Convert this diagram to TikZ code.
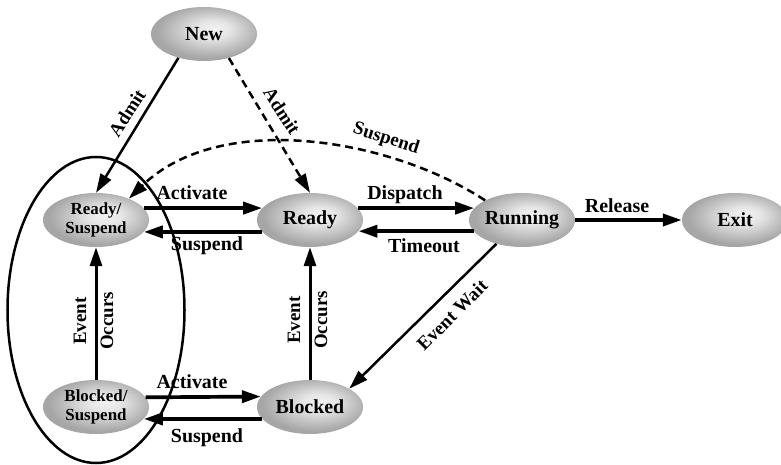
\documentclass[tikz,border=0pt]{standalone}
\usepackage{fontspec}
\setmainfont{Liberation Serif}
\usetikzlibrary{arrows.meta,shapes.geometric}

% soft grey fill for the state ellipses, lighter towards the upper right
\pgfdeclareradialshading{stateshade}{\pgfpoint{5bp}{5bp}}{%
  color(0bp)=(black!5); color(8bp)=(black!10); color(25bp)=(black!35); color(50bp)=(black!35)}

\begin{document}
\begin{tikzpicture}[x=1bp,y=-1bp,
  state/.style={ellipse, shading=stateshade, minimum width=106bp, minimum height=54bp,
    inner sep=0pt, font=\fontsize{20}{22}\selectfont\bfseries},
  state2/.style={state, align=center, font=\fontsize{17}{19}\selectfont\bfseries},
  lbl/.style={inner sep=0pt, font=\fontsize{20}{22}\selectfont\bfseries},
  slbl/.style={inner sep=0pt, font=\fontsize{19}{21}\selectfont\bfseries},
  tip/.style={-{Triangle[length=19bp,width=12bp]}},
  harr/.style={tip, line width=3.7bp},
  varr/.style={tip, line width=3bp},
  darr/.style={tip, line width=2.5bp},
  dasharr/.style={tip, line width=2.5bp, dash pattern=on 8bp off 5bp},
]
\useasboundingbox (0,0) rectangle (781,465);

% states
\node[state]  (new) at (204,34)  {New};
\node[state2] (rs)  at (96,220)  {Ready/\\Suspend};
\node[state]  (rd)  at (310,220) {Ready};
\node[state]  (run) at (522,220) {Running};
\node[state]  (ext) at (735,220) {Exit};
\node[state2] (bs)  at (96,407)  {Blocked/\\Suspend};
\node[state]  (bl)  at (310,407) {Blocked};

% outline grouping the two suspended states
\node[draw, ellipse, line width=2.5bp, minimum width=177bp, minimum height=306bp,
  inner sep=0pt] (grp) at (96,310) {};

% transitions
\draw[darr] (new.223) -- (rs.north);
\draw[dasharr] (new.316) -- (rd.north);
\draw[dasharr] (run.152) .. controls (390,138) and (220,110) .. (rs.33);
\draw[harr] (rs.14) -- (rd.166);
\draw[harr] (rd.194) -- (rs.346);
\draw[harr] (rd.14) -- (run.166);
\draw[harr] (run.193) -- (rd.347);
\draw[harr] (run) -- (ext);
\draw[varr] (bs) -- (rs);
\draw[varr] (bl) -- (rd);
\draw[darr] (run.223) -- (bl.25);
\draw[harr] (bs.11.5) -- (bl.168.5);
\draw[harr] (bl.194) -- (bs.346);

% transition labels
\node[lbl, anchor=base] (tActA) at (192,200) {Activate};
\node[lbl, anchor=base] (tSusA) at (207,251) {Suspend};
\node[lbl, anchor=base] (tDisp) at (405,200) {Dispatch};
\node[lbl, anchor=base] (tTime) at (424,253) {Timeout};
\node[lbl, anchor=base] (tRel)  at (617,213) {Release};
\node[lbl, anchor=base] (tActB) at (192,388) {Activate};
\node[lbl, anchor=base] (tSusB) at (207,442) {Suspend};
\node[slbl, rotate=90] (tEvA) at (80,321)  {Event};
\node[slbl, rotate=90] (tOcA) at (107,321) {Occurs};
\node[slbl, rotate=90] (tEvB) at (294,320) {Event};
\node[slbl, rotate=90] (tOcB) at (321,320) {Occurs};
\node[slbl, rotate=57]  (tAdA) at (127,113) {Admit};
\node[slbl, rotate=-57] (tAdB) at (282,111) {Admit};
\node[slbl, rotate=-18] (tSusC) at (386,139) {Suspend};
\node[slbl, rotate=45]  (tWait) at (452,315) {Event Wait};
\end{tikzpicture}
\end{document}
